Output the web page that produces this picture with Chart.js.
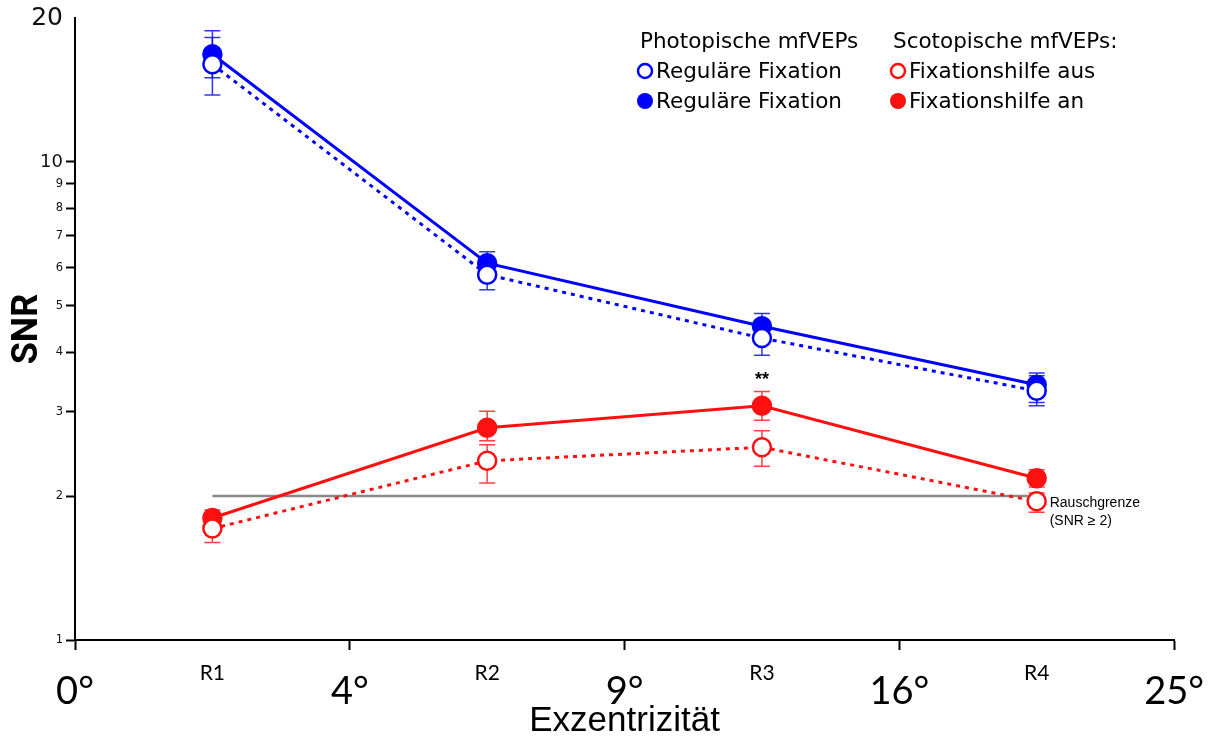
<!DOCTYPE html>
<html>
<head>
<meta charset="utf-8">
<script src="https://cdn.jsdelivr.net/npm/chart.js@4"></script>
<style>
  html, body { margin: 0; padding: 0; background: #fff; }
  #wrap { width: 1210px; height: 742px; }
</style>
</head>
<body>
<div id="wrap"><canvas id="snrChart" width="1210" height="742"></canvas></div>
<script>
    // ring positions on the eccentricity axis (0..4 = 0°,4°,9°,16°,25°)
    const ringPos = [0.5, 1.5, 2.5, 3.5];
    const ringLabels = ['R1', 'R2', 'R3', 'R4'];
    const degreeLabels = ['0°', '4°', '9°', '16°', '25°'];
    const yTickValues = [1, 2, 3, 4, 5, 6, 7, 8, 9, 10, 20];

    // photopic, regular fixation (open / filled)
    const photoOpen = [16.0, 5.81, 4.28, 3.32];
    const photoOpenHi = [18.2, 6.25, 4.65, 3.57];
    const photoOpenLo = [13.8, 5.40, 3.94, 3.09];
    const photoFilled = [16.8, 6.14, 4.53, 3.42];
    const photoFilledHi = [18.8, 6.49, 4.82, 3.62];
    const photoFilledLo = [15.0, 5.80, 4.25, 3.14];

    // scotopic, fixation aid off (open) / on (filled)
    const scotoOpen = [1.71, 2.37, 2.53, 1.95];
    const scotoOpenHi = [1.80, 2.56, 2.74, 2.03];
    const scotoOpenLo = [1.60, 2.13, 2.31, 1.85];
    const scotoFilled = [1.80, 2.78, 3.09, 2.18];
    const scotoFilledHi = [1.87, 3.01, 3.31, 2.27];
    const scotoFilledLo = [1.72, 2.61, 2.88, 2.09];

    const noiseLevel = 2;
    const signifMark = { x: 2.5, y: 3.5, text: '**' };

    const BLUE = '#0000ff';
    const RED = '#ff1010';

    const pts = arr => arr.map((v, i) => ({ x: ringPos[i], y: v }));

    function lineSet(label, values, color, filled, dashed, hi, lo) {
        return {
            label: label,
            data: pts(values),
            borderColor: color,
            borderWidth: 3,
            borderDash: dashed ? [4, 5] : [],
            pointRadius: 9,
            pointHoverRadius: 9,
            pointBorderWidth: 2.5,
            pointBackgroundColor: filled ? color : '#fff',
            pointBorderColor: color,
            fill: false,
            tension: 0,
            errHi: hi,
            errLo: lo
        };
    }

    // error bars, drawn through the chart scales
    const errorBars = {
        id: 'errorBars',
        beforeDatasetsDraw(chart) {
            const ctx = chart.ctx;
            const xs = chart.scales.x, ys = chart.scales.y;
            chart.data.datasets.forEach(ds => {
                if (!ds.errHi) return;
                ctx.save();
                ctx.strokeStyle = ds.borderColor;
                ctx.globalAlpha = 0.8;
                ctx.lineWidth = 1.5;
                ds.errHi.forEach((hi, i) => {
                    const px = xs.getPixelForValue(ringPos[i]);
                    const top = ys.getPixelForValue(hi);
                    const bot = ys.getPixelForValue(ds.errLo[i]);
                    ctx.beginPath();
                    ctx.moveTo(px, top); ctx.lineTo(px, bot);
                    ctx.moveTo(px - 8, top); ctx.lineTo(px + 8, top);
                    ctx.moveTo(px - 8, bot); ctx.lineTo(px + 8, bot);
                    ctx.stroke();
                });
                ctx.restore();
            });
        }
    };

    // annotations + two-column legend
    const extras = {
        id: 'extras',
        afterDraw(chart) {
            const ctx = chart.ctx;
            const xs = chart.scales.x, ys = chart.scales.y;
            ctx.save();
            ctx.fillStyle = '#000';
            ctx.font = 'bold 18px "Liberation Sans"';
            ctx.textAlign = 'center';
            ctx.textBaseline = 'middle';
            ctx.fillText(signifMark.text, xs.getPixelForValue(signifMark.x), ys.getPixelForValue(signifMark.y));

            ctx.font = '14px "Liberation Sans"';
            ctx.textAlign = 'left';
            const nx = xs.getPixelForValue(ringPos[3]) + 13;
            const ny = ys.getPixelForValue(noiseLevel);
            ctx.fillText('Rauschgrenze', nx, ny + 7);
            ctx.fillText('(SNR \u2265 2)', nx, ny + 25);

            ctx.font = '21.5px "DejaVu Sans"';
            ctx.textBaseline = 'middle';
            const cols = [
                { x: 645, head: 'Photopische mfVEPs', color: BLUE, rows: ['Reguläre Fixation', 'Reguläre Fixation'] },
                { x: 898, head: 'Scotopische mfVEPs:', color: RED, rows: ['Fixationshilfe aus', 'Fixationshilfe an'] }
            ];
            cols.forEach(c => {
                ctx.fillStyle = '#000';
                ctx.fillText(c.head, c.x - 5, 42);
                c.rows.forEach((t, r) => {
                    const cy = 71 + r * 30;
                    ctx.beginPath();
                    ctx.arc(c.x, cy, r === 0 ? 7 : 8, 0, Math.PI * 2);
                    if (r === 0) {
                        ctx.fillStyle = '#fff'; ctx.fill();
                        ctx.lineWidth = 2.5; ctx.strokeStyle = c.color; ctx.stroke();
                    } else {
                        ctx.fillStyle = c.color; ctx.fill();
                    }
                    ctx.fillStyle = '#000';
                    ctx.fillText(t, c.x + 11, cy + 1);
                });
            });
            ctx.restore();
        }
    };

    const ctx = document.getElementById('snrChart').getContext('2d');
    new Chart(ctx, {
        type: 'line',
        data: {
            datasets: [
                lineSet('Photopisch offen', photoOpen, BLUE, false, true, photoOpenHi, photoOpenLo),
                lineSet('Scotopisch aus', scotoOpen, RED, false, true, scotoOpenHi, scotoOpenLo),
                lineSet('Photopisch', photoFilled, BLUE, true, false, photoFilledHi, photoFilledLo),
                lineSet('Scotopisch an', scotoFilled, RED, true, false, scotoFilledHi, scotoFilledLo),
                {
                    label: 'Rauschgrenze',
                    data: [{ x: ringPos[0], y: noiseLevel }, { x: ringPos[3], y: noiseLevel }],
                    borderColor: '#888',
                    borderWidth: 2.5,
                    pointRadius: 0,
                    order: 10
                }
            ]
        },
        options: {
            responsive: false,
            animation: false,
            events: [],
            layout: { padding: { top: 18, right: 35, left: 0, bottom: 0 } },
            plugins: { legend: { display: false }, tooltip: { enabled: false } },
            scales: {
                x: {
                    type: 'linear',
                    min: 0,
                    max: 4,
                    afterBuildTicks: s => {
                        s.ticks = [0, 0.5, 1, 1.5, 2, 2.5, 3, 3.5, 4].map(v => ({ value: v }));
                    },
                    afterFit: s => { s.height = 102; },
                    ticks: {
                        autoSkip: false,
                        maxRotation: 0,
                        padding: 6,
                        color: '#000',
                        callback: v => Number.isInteger(v) ? degreeLabels[v] : ringLabels[Math.floor(v)],
                        font: c => (c.tick && !Number.isInteger(c.tick.value))
                            ? { family: 'Lato', size: 21, lineHeight: 1.6 }
                            : { family: 'Lato', size: 38, lineHeight: 1.9 }
                    },
                    grid: {
                        drawOnChartArea: false,
                        tickLength: 10,
                        tickWidth: 2,
                        tickColor: c => (c.tick && Number.isInteger(c.tick.value)) ? '#000' : 'rgba(0,0,0,0)'
                    },
                    border: { color: '#000', width: 2 },
                    title: {
                        display: true,
                        text: 'Exzentrizität',
                        color: '#000',
                        font: { family: 'Liberation Sans', size: 35 },
                        padding: { top: 0, bottom: 0 }
                    }
                },
                y: {
                    type: 'logarithmic',
                    min: 1,
                    max: 20,
                    afterBuildTicks: s => {
                        s.ticks = yTickValues.map(v => ({ value: v }));
                    },
                    afterFit: s => { s.width = 75; },
                    ticks: {
                        autoSkip: false,
                        padding: 3,
                        color: '#111',
                        callback: v => String(v),
                        font: c => {
                            const v = c.tick ? c.tick.value : 1;
                            if (v === 20) return { family: 'DejaVu Sans', size: 25 };
                            if (v === 10) return { family: 'DejaVu Sans', size: 18 };
                            return { family: 'DejaVu Sans', size: 11.5 };
                        }
                    },
                    grid: {
                        drawOnChartArea: false,
                        tickLength: 9,
                        tickWidth: 2,
                        tickColor: c => (c.tick && c.tick.value === 20) ? 'rgba(0,0,0,0)' : '#000'
                    },
                    border: { color: '#000', width: 2 },
                    title: {
                        display: true,
                        text: 'SNR',
                        color: '#000',
                        font: { family: 'Roboto', size: 36, weight: 'bold' },
                        padding: { top: 6, bottom: 0 }
                    }
                }
            }
        },
        plugins: [errorBars, extras]
    });
</script>
</body>
</html>
